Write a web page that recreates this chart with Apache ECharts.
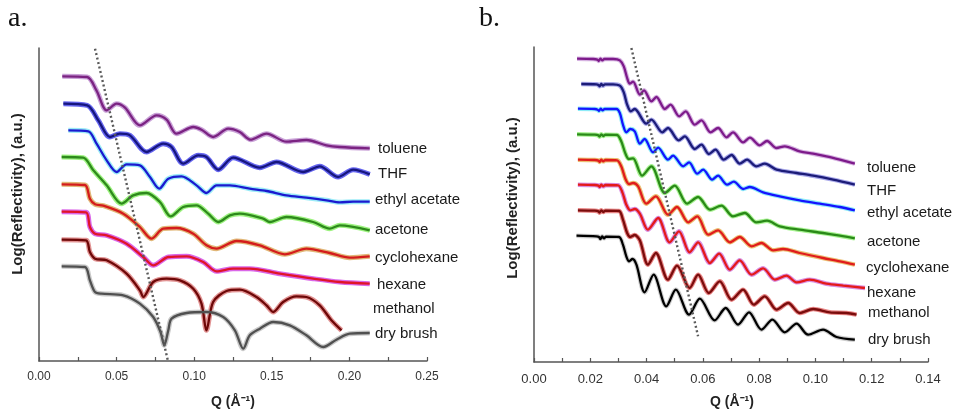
<!DOCTYPE html>
<html><head><meta charset="utf-8">
<script src="https://cdn.jsdelivr.net/npm/echarts@6/dist/echarts.min.js"></script>
<style>html,body{margin:0;padding:0;background:#fff}#c{width:955px;height:413px}</style>
</head><body><div id="c"></div>
<script>
// ---------- categories / labels ----------
const names = ['toluene','THF','ethyl acetate','acetone','cyclohexane','hexane','methanol','dry brush'];
const xTitle = 'Q (Å⁻¹)';
const yTitle = 'Log(Reflectivity), (a.u.)';

// ---------- panel a: [Q (1/Å), log R offset (a.u.)] ----------
const aToluene = [[0.015,854],[0.031,852],[0.037,812],[0.0436,752],[0.050,772],[0.0554,760],[0.065,707],[0.0758,737],[0.0822,724],[0.0886,682],[0.0994,702],[0.1047,694],[0.1122,672],[0.1219,697],[0.1294,687],[0.1363,664],[0.1466,682],[0.1594,658],[0.1723,663],[0.1852,647],[0.1938,642],[0.2131,638]];
const aTHF = [[0.0157,772],[0.0311,767],[0.0382,722],[0.0457,672],[0.0521,682],[0.0586,677],[0.0693,627],[0.080,652],[0.0854,642],[0.0929,592],[0.1026,617],[0.1079,612],[0.1155,574],[0.1251,610],[0.1423,580],[0.153,597],[0.1702,567],[0.1809,584],[0.1927,552],[0.2024,574],[0.2131,560]];
const aEthyl = [[0.0189,692],[0.0318,689],[0.0371,652],[0.0436,602],[0.050,567],[0.0564,590],[0.065,587],[0.0715,552],[0.0775,517],[0.0833,547],[0.0918,554],[0.1015,527],[0.1079,504],[0.1144,527],[0.123,527],[0.1358,517],[0.1466,510],[0.1594,497],[0.1723,490],[0.1852,482],[0.1938,476],[0.2024,478],[0.2131,478]];
const aAcetone = [[0.0146,612],[0.0285,610],[0.035,572],[0.0436,527],[0.0532,472],[0.0607,497],[0.0693,504],[0.0779,477],[0.0848,434],[0.0929,462],[0.1015,467],[0.109,442],[0.1155,417],[0.123,437],[0.1294,442],[0.1444,427],[0.1487,417],[0.1594,432],[0.1766,417],[0.1873,397],[0.1938,407],[0.2131,392]];
const aCyclo = [[0.0146,530],[0.0296,528],[0.0328,487],[0.0361,470],[0.0414,466],[0.0543,442],[0.065,402],[0.0725,367],[0.080,397],[0.0886,399],[0.0994,382],[0.1079,347],[0.1144,337],[0.1273,360],[0.1423,347],[0.1584,320],[0.1723,337],[0.1873,324],[0.2002,310],[0.2131,314]];
const aHexane = [[0.0146,448],[0.0303,446],[0.0328,402],[0.0361,382],[0.0436,377],[0.0564,352],[0.0672,312],[0.0736,287],[0.0833,312],[0.0951,314],[0.1058,297],[0.1144,269],[0.1251,277],[0.1358,277],[0.1552,262],[0.1766,247],[0.1938,237],[0.2131,232]];
const aMethanol = [[0.0146,364],[0.0303,362],[0.0328,327],[0.0361,307],[0.0436,302],[0.0564,262],[0.065,212],[0.0672,192],[0.0736,237],[0.0822,247],[0.0908,242],[0.0994,217],[0.1047,172],[0.1079,92],[0.1122,177],[0.1208,210],[0.1294,214],[0.1401,192],[0.1466,167],[0.1509,147],[0.1573,177],[0.1659,194],[0.1723,192],[0.1809,167],[0.1884,122],[0.1949,92]];
const aDry = [[0.0146,284],[0.0296,282],[0.0328,242],[0.0361,207],[0.0403,202],[0.0543,197],[0.065,172],[0.0736,132],[0.0783,87],[0.0807,47],[0.0833,92],[0.0854,127],[0.0951,144],[0.1079,147],[0.1187,132],[0.1262,92],[0.1316,37],[0.1358,77],[0.1423,97],[0.1509,117],[0.1616,107],[0.1723,77],[0.1831,42],[0.1916,64],[0.2002,82],[0.2131,84]];
const aGuide = [[0.0361,937],[0.0831,0]];

// ---------- panel b ----------
const bToluene = [[0.0153,910],[0.0210,909],[0.0225,907],[0.0230,903],[0.0236,910],[0.0243,905],[0.0250,909],[0.0281,909],[0.0305,905],[0.0319,887],[0.0331,852],[0.0340,835],[0.0352,841],[0.0376,802],[0.0391,815],[0.0417,782],[0.0435,795],[0.0465,759],[0.0485,772],[0.0516,737],[0.0539,752],[0.0571,712],[0.0595,725],[0.0627,689],[0.0654,702],[0.0684,674],[0.0707,689],[0.0743,659],[0.0767,673],[0.0802,650],[0.0828,663],[0.0862,642],[0.0891,647],[0.0944,632],[0.0992,625],[0.1039,617],[0.1087,607],[0.1140,595]];
const bTHF = [[0.0168,834],[0.0222,833],[0.0229,831],[0.0233,827],[0.0239,834],[0.0245,829],[0.0252,833],[0.0281,833],[0.0305,829],[0.0319,809],[0.0331,772],[0.0344,752],[0.0358,759],[0.0399,715],[0.0417,727],[0.0456,689],[0.0476,702],[0.0514,665],[0.0536,677],[0.0571,639],[0.0595,652],[0.0621,624],[0.0645,637],[0.0674,607],[0.0702,621],[0.0731,595],[0.0757,607],[0.0790,587],[0.0820,595],[0.0862,577],[0.0933,567],[0.0992,559],[0.1063,547],[0.1140,532]];
const bEthyl = [[0.0156,760],[0.0216,759],[0.0226,757],[0.0231,753],[0.0237,760],[0.0244,755],[0.0251,759],[0.0293,759],[0.0305,747],[0.0316,712],[0.0328,689],[0.0342,699],[0.0358,692],[0.0376,655],[0.0393,669],[0.0423,629],[0.0441,643],[0.0476,607],[0.0494,619],[0.0530,587],[0.0551,599],[0.0580,565],[0.0601,577],[0.0633,547],[0.0654,559],[0.0686,532],[0.0710,541],[0.0743,519],[0.0767,525],[0.0814,509],[0.0873,497],[0.0944,485],[0.1016,475],[0.1087,465],[0.1140,455]];
const bAcetone = [[0.0153,683],[0.0216,682],[0.0229,680],[0.0233,676],[0.0239,683],[0.0246,678],[0.0254,682],[0.0295,681],[0.0310,662],[0.0325,625],[0.0337,609],[0.0352,611],[0.0384,559],[0.0417,587],[0.0465,507],[0.0500,529],[0.0544,475],[0.0583,495],[0.0625,457],[0.0666,469],[0.0707,437],[0.0749,447],[0.0790,419],[0.0828,424],[0.0873,407],[0.0944,397],[0.1027,387],[0.1087,379],[0.1140,371]];
const bCyclo = [[0.0156,607],[0.0216,606],[0.0229,604],[0.0233,600],[0.0239,607],[0.0246,602],[0.0254,606],[0.0295,605],[0.0310,587],[0.0325,549],[0.0337,534],[0.0352,537],[0.0370,527],[0.0399,475],[0.0433,497],[0.0476,442],[0.0508,465],[0.0548,419],[0.0580,437],[0.0619,382],[0.0654,395],[0.0696,359],[0.0731,375],[0.0773,347],[0.0808,357],[0.0850,335],[0.0885,339],[0.0944,327],[0.1027,312],[0.1087,302],[0.1140,292]];
const bHexane = [[0.0156,532],[0.0216,531],[0.0229,529],[0.0233,525],[0.0239,532],[0.0246,527],[0.0254,531],[0.0299,530],[0.0314,509],[0.0328,472],[0.0342,455],[0.0358,459],[0.0376,445],[0.0405,397],[0.0441,432],[0.0482,359],[0.0515,392],[0.0553,329],[0.0583,359],[0.0625,297],[0.0658,325],[0.0696,277],[0.0731,305],[0.0773,262],[0.0814,281],[0.0856,247],[0.0897,259],[0.0933,239],[0.0980,247],[0.1039,235],[0.1099,229],[0.1176,222]];
const bMethanol = [[0.0156,455],[0.0216,454],[0.0229,452],[0.0233,448],[0.0239,455],[0.0246,450],[0.0254,454],[0.0302,453],[0.0316,427],[0.0331,387],[0.0342,375],[0.0358,381],[0.0376,365],[0.0405,292],[0.0433,327],[0.0476,247],[0.0508,289],[0.0553,222],[0.0583,262],[0.0621,207],[0.0660,242],[0.0702,187],[0.0743,217],[0.0781,172],[0.0820,197],[0.0862,157],[0.0903,177],[0.0944,147],[0.0992,159],[0.1051,149],[0.1110,147],[0.1146,142]];
const bDry = [[0.0151,379],[0.0222,377],[0.0231,375],[0.0236,369],[0.0242,377],[0.0249,371],[0.0256,376],[0.0302,375],[0.0316,352],[0.0328,317],[0.0338,302],[0.0350,309],[0.0364,292],[0.0393,209],[0.0425,262],[0.0470,167],[0.0504,217],[0.0551,142],[0.0589,190],[0.0642,125],[0.0681,162],[0.0725,112],[0.0764,149],[0.0808,97],[0.0847,127],[0.0891,89],[0.0933,115],[0.0974,82],[0.1027,97],[0.1075,75],[0.1140,67]];
const bGuide = [[0.0346,942],[0.0583,77]];

const seriesA = [aToluene,aTHF,aEthyl,aAcetone,aCyclo,aHexane,aMethanol,aDry];
const seriesB = [bToluene,bTHF,bEthyl,bAcetone,bCyclo,bHexane,bMethanol,bDry];

// ---------- styles ----------
const fitA = ['#7b2382','#16167e','#1a1ad0','#2e8a1c','#d41c1c','#e01428','#6e0808','#505050'];
const dotA = ['#c090d0','#4a4aec','#8ae8f6','#8cf06a','#dcaa60','#d44ce4','#dc8080','#c0c0c0'];
const fitB = ['#7d1a8a','#1c1c78','#1414ff','#2a8a18','#e01c1c','#e41a1a','#7a0c0c','#000000'];
const dotB = ['#cfa6dc','#9a9ae6','#7ae8f6','#98f07e','#e8b45c','#d27ada','#e47070','#c4c4c4'];
const labA = [[378,149],[378,174],[375,200],[375,230],[375,258],[377,285],[373,309],[375,334]];
const labB = [[867,168],[867,191],[867,213],[867,242],[866,268],[867,293],[868,313],[868,340]];

const FONT = '"Liberation Sans", Arial, Helvetica, sans-serif';

function xAxis(grid, max, interval, fs, margin){
  return {type:'value', gridIndex:grid, min:0, max:max, interval:interval,
    axisLine:{show:true,onZero:false,lineStyle:{color:'#555',width:1.5}},
    axisTick:{show:true,inside:true,length:4,lineStyle:{color:'#555',width:1.2}},
    minorTick:{show:true,splitNumber:2,length:4,lineStyle:{color:'#555',width:1.2}},
    axisLabel:{formatter:v=>v.toFixed(2),fontSize:fs,color:'#333',margin:margin,fontFamily:FONT},
    splitLine:{show:false}};
}
function yAxis(grid, max){
  return {type:'value', gridIndex:grid, min:0, max:max,
    axisLine:{show:true,lineStyle:{color:'#555',width:1.5}},
    axisTick:{show:false}, axisLabel:{show:false}, splitLine:{show:false}};
}

const series = [];
function addPanel(list, idx, fits, dots, wFit, wDot){
  list.forEach((d,i)=>{
    series.push({type:'line',xAxisIndex:idx,yAxisIndex:idx,data:d,showSymbol:false,symbol:'none',
      smooth:0.3,lineStyle:{color:dots[i],width:wDot,opacity:0.85},silent:true,z:1});
  });
  list.forEach((d,i)=>{
    series.push({type:'line',xAxisIndex:idx,yAxisIndex:idx,data:d,showSymbol:false,symbol:'none',
      smooth:0.3,lineStyle:{color:fits[i],width:wFit},silent:true,z:3});
  });
}
addPanel(seriesA,0,fitA,dotA,2.3,5);
addPanel(seriesB,1,fitB,dotB,2.3,4.5);
series.push({type:'line',xAxisIndex:0,yAxisIndex:0,data:aGuide,showSymbol:false,symbol:'none',
  lineStyle:{color:'#5a5a5a',width:2.4,type:[2,2.6]},z:5,silent:true});
series.push({type:'line',xAxisIndex:1,yAxisIndex:1,data:bGuide,showSymbol:false,symbol:'none',
  lineStyle:{color:'#5a5a5a',width:2.4,type:[2,2.6]},z:5,silent:true});

const graphics = [];
function txt(x,y,text,font){
  graphics.push({type:'text',x:x,y:y,silent:true,
    style:{text:text,font:font,fill:'#1a1a1a',textAlign:'left',textVerticalAlign:'middle',verticalAlign:'middle'}});
}
names.forEach((n,i)=>{ txt(labA[i][0],labA[i][1],n,'15px '+FONT); txt(labB[i][0],labB[i][1],n,'15px '+FONT); });
// panel letters
graphics.push({type:'text',x:8,y:33,silent:true,style:{text:'a.',font:'28px "Liberation Serif", "Times New Roman", serif',fill:'#111',textAlign:'left',textVerticalAlign:'bottom',verticalAlign:'bottom'}});
graphics.push({type:'text',x:479,y:33,silent:true,style:{text:'b.',font:'28px "Liberation Serif", "Times New Roman", serif',fill:'#111',textAlign:'left',textVerticalAlign:'bottom',verticalAlign:'bottom'}});
// axis titles
graphics.push({type:'text',x:233,y:402,silent:true,style:{text:xTitle,font:'bold 14px '+FONT,fill:'#222',textAlign:'center',textVerticalAlign:'middle',verticalAlign:'middle'}});
graphics.push({type:'text',x:732,y:402,silent:true,style:{text:xTitle,font:'bold 14px '+FONT,fill:'#222',textAlign:'center',textVerticalAlign:'middle',verticalAlign:'middle'}});
graphics.push({type:'text',x:18,y:194,rotation:Math.PI/2,silent:true,style:{text:yTitle,font:'bold 15px '+FONT,fill:'#222',textAlign:'center',textVerticalAlign:'middle',verticalAlign:'middle'}});
graphics.push({type:'text',x:513,y:198,rotation:Math.PI/2,silent:true,style:{text:yTitle,font:'bold 15px '+FONT,fill:'#222',textAlign:'center',textVerticalAlign:'middle',verticalAlign:'middle'}});

const chart = echarts.init(document.getElementById('c'),null,{renderer:'canvas'});
chart.setOption({
  animation:false,
  backgroundColor:'#fff',
  grid:[{left:39,width:388,top:48,height:313},{left:534,width:394,top:47,height:315}],
  xAxis:[xAxis(0,0.25,0.05,12,10), xAxis(1,0.14,0.02,13,11)],
  yAxis:[yAxis(0,939), yAxis(1,945)],
  series:series,
  graphic:graphics
});
</script></body></html>
